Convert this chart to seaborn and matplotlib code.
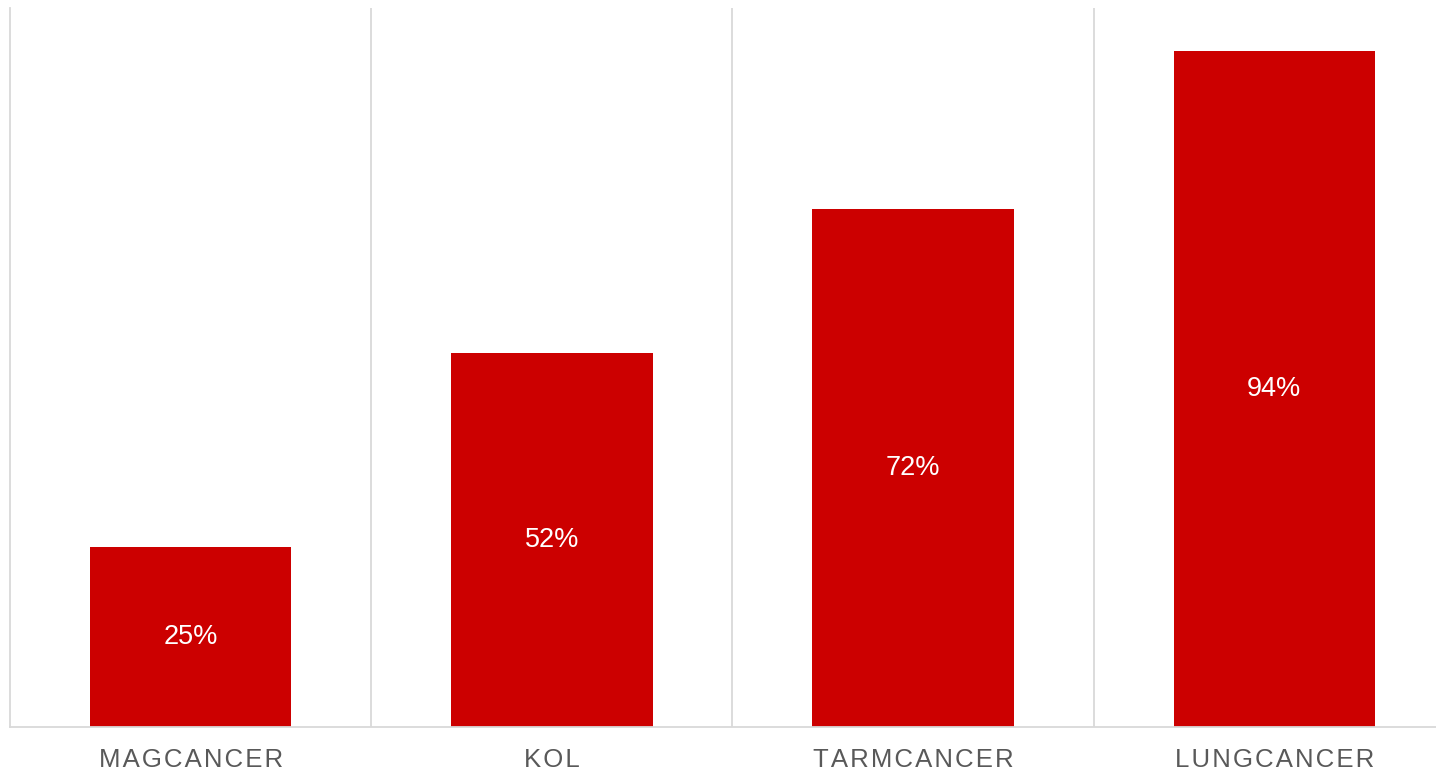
import matplotlib
matplotlib.use('Agg')
from matplotlib import pyplot as plt
import pandas as pd
import seaborn as sns

# Data
categories = ['MAGCANCER', 'KOL', 'TARMCANCER', 'LUNGCANCER']
values = [25, 52, 72, 94]
labels = ['25%', '52%', '72%', '94%']

BAR_COLOR = '#CC0000'
GRID_COLOR = '#D9D9D9'
TEXT_COLOR = '#595959'

sns.set_theme(style='white')
plt.rcParams['font.family'] = ['Liberation Sans', 'DejaVu Sans']

df = pd.DataFrame({'categorie': categories, 'valeur': values})

fig = plt.figure(figsize=(14.36, 7.71), dpi=100)
ax = fig.add_axes([10 / 1436, 44 / 771, 1445 / 1436, 719 / 771])

sns.barplot(data=df, x='categorie', y='valeur', color=BAR_COLOR,
            saturation=1, width=0.558, linewidth=0, ax=ax)

ax.set_xlim(-0.5, 3.5)
ax.set_ylim(0, 100)

# Valeurs au milieu des barres
for container in ax.containers:
    ax.bar_label(container, labels=labels, label_type='center',
                 color='white', fontsize=19.5)

# Séparateurs verticaux entre catégories
for xb in [0.5, 1.5, 2.5]:
    ax.axvline(xb, color=GRID_COLOR, lw=1.3, zorder=0)

for side in ['top', 'right']:
    ax.spines[side].set_visible(False)
for side in ['left', 'bottom']:
    ax.spines[side].set_color(GRID_COLOR)
    ax.spines[side].set_linewidth(1.3)

ax.set_yticks([])
ax.set_xlabel('')
ax.set_ylabel('')
spaced = ['\u200a'.join(c) for c in categories]
ax.set_xticks(range(len(categories)))
ax.set_xticklabels(spaced, color=TEXT_COLOR, fontsize=18.5)
ax.tick_params(axis='x', length=0, pad=15)

fig.savefig('out.png', dpi=100)
plt.close()
